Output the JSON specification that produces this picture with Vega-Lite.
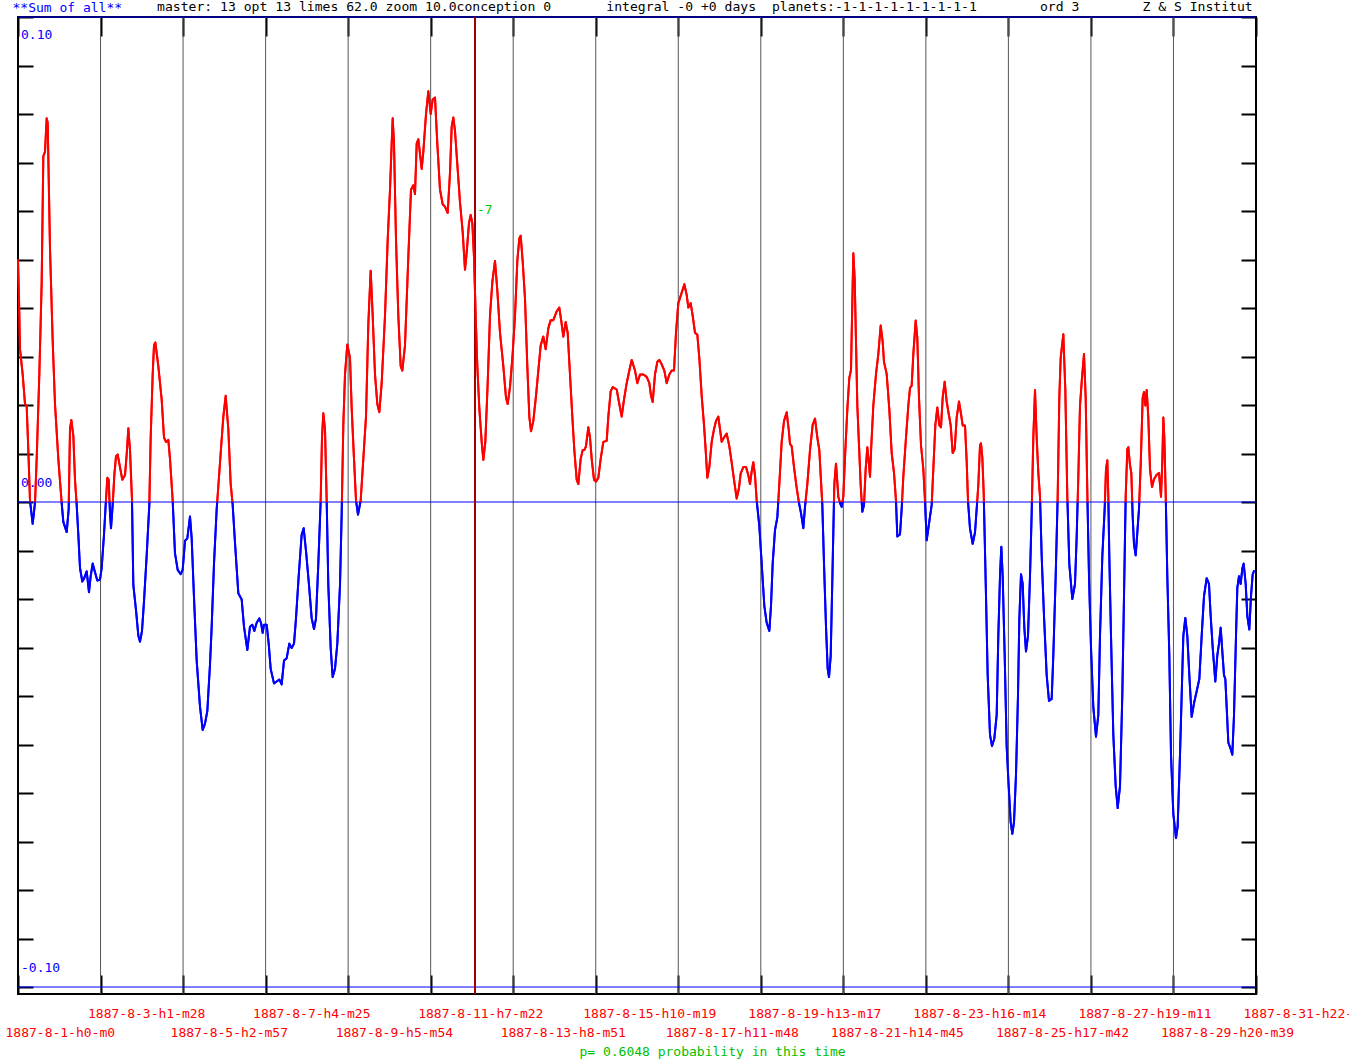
{
  "$schema": "https://vega.github.io/schema/vega-lite/v6.json",
  "width": 1238,
  "height": 977,
  "autosize": "none",
  "padding": {"left": 18, "top": 17, "right": 93, "bottom": 67},
  "background": "white",
  "config": {"font": "DejaVu Sans Mono", "view": {"stroke": "#000000", "strokeWidth": 2}},
  "title": {
    "text": "master: 13 opt 13 limes 62.0 zoom 10.0conception 0\u00a0\u00a0\u00a0\u00a0\u00a0\u00a0\u00a0integral -0 +0 days\u00a0\u00a0planets:-1-1-1-1-1-1-1-1-1\u00a0\u00a0\u00a0\u00a0\u00a0\u00a0\u00a0\u00a0ord 3\u00a0\u00a0\u00a0\u00a0\u00a0\u00a0\u00a0\u00a0Z & S Institut",
    "anchor": "start", "frame": "group", "dx": 139, "offset": -19, "baseline": "middle",
    "font": "DejaVu Sans Mono", "fontSize": 13.1, "fontWeight": "normal", "color": "#000000"
  },
  "datasets": {
    "curve": [
      {"d":0,"v":0.05},{"d":0.025,"v":0.0419},{"d":0.05,"v":0.0315},{"d":0.117,"v":0.0263},{"d":0.175,"v":0.0202},{"d":0.217,"v":0.0198},{"d":0.258,"v":0.0107},{"d":0.3,"v":0.0003},{"d":0.367,"v":-0.0045},{"d":0.425,"v":-0.0002},{"d":0.467,"v":0.0089},{"d":0.533,"v":0.0263},{"d":0.592,"v":0.0453},{"d":0.633,"v":0.0713},{"d":0.675,"v":0.0722},{"d":0.717,"v":0.0791},{"d":0.742,"v":0.0782},{"d":0.8,"v":0.0523},{"d":0.867,"v":0.0332},{"d":0.925,"v":0.0202},{"d":1.008,"v":0.0089},{"d":1.092,"v":-0.0002},{"d":1.133,"v":-0.0041},{"d":1.217,"v":-0.0062},{"d":1.267,"v":-0.0015},{"d":1.3,"v":0.015},{"d":1.333,"v":0.0169},{"d":1.383,"v":0.0137},{"d":1.425,"v":0.0046},{"d":1.467,"v":-0.0006},{"d":1.508,"v":-0.0067},{"d":1.55,"v":-0.0136},{"d":1.608,"v":-0.0164},{"d":1.65,"v":-0.0158},{"d":1.717,"v":-0.0143},{"d":1.775,"v":-0.0186},{"d":1.817,"v":-0.0153},{"d":1.867,"v":-0.0127},{"d":1.925,"v":-0.0145},{"d":1.983,"v":-0.0162},{"d":2.05,"v":-0.016},{"d":2.092,"v":-0.0136},{"d":2.15,"v":-0.0067},{"d":2.192,"v":-0.0006},{"d":2.233,"v":0.005},{"d":2.267,"v":0.0046},{"d":2.3,"v":-0.0023},{"d":2.325,"v":-0.0054},{"d":2.367,"v":-0.0006},{"d":2.408,"v":0.0055},{"d":2.45,"v":0.0094},{"d":2.492,"v":0.0098},{"d":2.55,"v":0.0072},{"d":2.608,"v":0.0046},{"d":2.675,"v":0.0055},{"d":2.717,"v":0.0098},{"d":2.758,"v":0.0152},{"d":2.8,"v":0.0107},{"d":2.85,"v":0.0003},{"d":2.883,"v":-0.0171},{"d":2.95,"v":-0.0223},{"d":3.008,"v":-0.0275},{"d":3.05,"v":-0.0288},{"d":3.1,"v":-0.0266},{"d":3.15,"v":-0.0205},{"d":3.217,"v":-0.011},{"d":3.283,"v":-0.0006},{"d":3.317,"v":0.0133},{"d":3.367,"v":0.0263},{"d":3.4,"v":0.0323},{"d":3.433,"v":0.0329},{"d":3.508,"v":0.028},{"d":3.592,"v":0.0211},{"d":3.65,"v":0.0133},{"d":3.7,"v":0.0124},{"d":3.758,"v":0.0128},{"d":3.8,"v":0.0089},{"d":3.867,"v":0.0003},{"d":3.925,"v":-0.0106},{"d":3.992,"v":-0.014},{"d":4.067,"v":-0.0149},{"d":4.117,"v":-0.014},{"d":4.175,"v":-0.008},{"d":4.233,"v":-0.0075},{"d":4.3,"v":-0.003},{"d":4.342,"v":-0.0075},{"d":4.4,"v":-0.0197},{"d":4.467,"v":-0.0327},{"d":4.55,"v":-0.0422},{"d":4.617,"v":-0.047},{"d":4.675,"v":-0.0457},{"d":4.733,"v":-0.0431},{"d":4.8,"v":-0.0335},{"d":4.842,"v":-0.0257},{"d":4.9,"v":-0.0127},{"d":4.967,"v":-0.0015},{"d":5.05,"v":0.0081},{"d":5.133,"v":0.0176},{"d":5.192,"v":0.0219},{"d":5.258,"v":0.015},{"d":5.317,"v":0.0037},{"d":5.367,"v":-0.0006},{"d":5.425,"v":-0.0084},{"d":5.508,"v":-0.0188},{"d":5.592,"v":-0.0201},{"d":5.65,"v":-0.0257},{"d":5.733,"v":-0.0305},{"d":5.8,"v":-0.0257},{"d":5.858,"v":-0.0253},{"d":5.908,"v":-0.0266},{"d":5.967,"v":-0.0249},{"d":6.033,"v":-0.024},{"d":6.075,"v":-0.0249},{"d":6.117,"v":-0.027},{"d":6.15,"v":-0.0253},{"d":6.217,"v":-0.0253},{"d":6.267,"v":-0.0292},{"d":6.317,"v":-0.0344},{"d":6.4,"v":-0.0374},{"d":6.467,"v":-0.037},{"d":6.533,"v":-0.0366},{"d":6.592,"v":-0.0376},{"d":6.65,"v":-0.0327},{"d":6.717,"v":-0.0322},{"d":6.783,"v":-0.0292},{"d":6.842,"v":-0.0301},{"d":6.9,"v":-0.0292},{"d":6.95,"v":-0.024},{"d":7.017,"v":-0.0153},{"d":7.092,"v":-0.0067},{"d":7.142,"v":-0.0054},{"d":7.2,"v":-0.0101},{"d":7.275,"v":-0.0171},{"d":7.342,"v":-0.024},{"d":7.4,"v":-0.0262},{"d":7.45,"v":-0.024},{"d":7.508,"v":-0.0127},{"d":7.567,"v":0.0003},{"d":7.6,"v":0.0133},{"d":7.633,"v":0.0183},{"d":7.675,"v":0.015},{"d":7.717,"v":0.0003},{"d":7.758,"v":-0.0171},{"d":7.817,"v":-0.0301},{"d":7.867,"v":-0.0361},{"d":7.925,"v":-0.0344},{"d":7.983,"v":-0.0292},{"d":8.05,"v":-0.0171},{"d":8.092,"v":-0.0023},{"d":8.133,"v":0.0159},{"d":8.175,"v":0.0263},{"d":8.233,"v":0.0325},{"d":8.3,"v":0.0297},{"d":8.342,"v":0.0193},{"d":8.4,"v":0.0089},{"d":8.45,"v":0.0003},{"d":8.5,"v":-0.0026},{"d":8.567,"v":0.0003},{"d":8.633,"v":0.0089},{"d":8.7,"v":0.0176},{"d":8.758,"v":0.0367},{"d":8.817,"v":0.0477},{"d":8.867,"v":0.0384},{"d":8.925,"v":0.0263},{"d":8.983,"v":0.0202},{"d":9.033,"v":0.0185},{"d":9.092,"v":0.0245},{"d":9.175,"v":0.0384},{"d":9.242,"v":0.054},{"d":9.3,"v":0.0644},{"d":9.342,"v":0.0739},{"d":9.367,"v":0.0791},{"d":9.4,"v":0.0739},{"d":9.45,"v":0.054},{"d":9.508,"v":0.0384},{"d":9.567,"v":0.028},{"d":9.608,"v":0.0271},{"d":9.675,"v":0.0323},{"d":9.758,"v":0.0505},{"d":9.825,"v":0.0644},{"d":9.883,"v":0.0653},{"d":9.925,"v":0.0635},{"d":9.967,"v":0.0739},{"d":10.008,"v":0.0748},
      {"d":10.092,"v":0.0687},{"d":10.133,"v":0.0722},{"d":10.2,"v":0.08},{"d":10.258,"v":0.0847},{"d":10.317,"v":0.08},{"d":10.367,"v":0.083},{"d":10.425,"v":0.0834},{"d":10.483,"v":0.0739},{"d":10.55,"v":0.0644},{"d":10.617,"v":0.0614},{"d":10.675,"v":0.0609},{"d":10.742,"v":0.0596},{"d":10.8,"v":0.0679},{"d":10.842,"v":0.0774},{"d":10.883,"v":0.0793},{"d":10.925,"v":0.0765},{"d":10.983,"v":0.0696},{"d":11.05,"v":0.0618},{"d":11.117,"v":0.0557},{"d":11.175,"v":0.0479},{"d":11.217,"v":0.0514},{"d":11.275,"v":0.0575},{"d":11.317,"v":0.0592},{"d":11.358,"v":0.0575},{"d":11.4,"v":0.0505},{"d":11.442,"v":0.0384},{"d":11.483,"v":0.028},{"d":11.533,"v":0.0193},{"d":11.592,"v":0.0124},{"d":11.633,"v":0.0087},{"d":11.683,"v":0.0124},{"d":11.742,"v":0.0245},{"d":11.8,"v":0.0384},{"d":11.858,"v":0.0453},{"d":11.925,"v":0.0497},{"d":11.983,"v":0.0436},{"d":12.05,"v":0.0349},{"d":12.133,"v":0.028},{"d":12.2,"v":0.0215},{"d":12.242,"v":0.0202},{"d":12.3,"v":0.0237},{"d":12.367,"v":0.0306},{"d":12.425,"v":0.0384},{"d":12.483,"v":0.0497},{"d":12.533,"v":0.0544},{"d":12.567,"v":0.0549},{"d":12.617,"v":0.0497},{"d":12.675,"v":0.0419},{"d":12.733,"v":0.028},{"d":12.783,"v":0.0176},{"d":12.825,"v":0.0146},{"d":12.883,"v":0.0167},{"d":12.95,"v":0.0219},{"d":13.008,"v":0.0271},{"d":13.067,"v":0.0323},{"d":13.133,"v":0.0341},{"d":13.192,"v":0.0315},{"d":13.258,"v":0.0358},{"d":13.317,"v":0.0375},{"d":13.383,"v":0.0375},{"d":13.467,"v":0.0393},{"d":13.533,"v":0.0401},{"d":13.592,"v":0.0367},{"d":13.633,"v":0.0341},{"d":13.692,"v":0.0371},{"d":13.742,"v":0.0349},{"d":13.8,"v":0.0263},{"d":13.858,"v":0.0176},{"d":13.908,"v":0.0107},{"d":13.967,"v":0.0046},{"d":14.008,"v":0.0037},{"d":14.067,"v":0.0089},{"d":14.117,"v":0.0107},{"d":14.158,"v":0.0107},{"d":14.2,"v":0.0115},{"d":14.258,"v":0.0154},{"d":14.3,"v":0.0133},{"d":14.342,"v":0.0089},{"d":14.4,"v":0.0046},{"d":14.45,"v":0.0042},{"d":14.508,"v":0.005},{"d":14.567,"v":0.0089},{"d":14.633,"v":0.0124},{"d":14.717,"v":0.0126},{"d":14.758,"v":0.0176},{"d":14.817,"v":0.0228},{"d":14.867,"v":0.0237},{"d":14.967,"v":0.0232},{"d":15.033,"v":0.0202},{"d":15.092,"v":0.0176},{"d":15.15,"v":0.0211},{"d":15.217,"v":0.0245},{"d":15.283,"v":0.0271},{"d":15.342,"v":0.0293},{"d":15.425,"v":0.0271},{"d":15.483,"v":0.0245},{"d":15.55,"v":0.0263},{"d":15.633,"v":0.0263},{"d":15.717,"v":0.0258},{"d":15.783,"v":0.0245},{"d":15.825,"v":0.0219},{"d":15.867,"v":0.0206},{"d":15.925,"v":0.0263},{"d":15.983,"v":0.0289},{"d":16.033,"v":0.0293},{"d":16.092,"v":0.0284},{"d":16.158,"v":0.0271},{"d":16.217,"v":0.0245},{"d":16.283,"v":0.0263},{"d":16.342,"v":0.0271},{"d":16.4,"v":0.0271},{"d":16.45,"v":0.0349},{"d":16.508,"v":0.041},{"d":16.575,"v":0.0427},{"d":16.658,"v":0.0449},{"d":16.717,"v":0.0427},{"d":16.758,"v":0.0401},{"d":16.817,"v":0.041},{"d":16.867,"v":0.0384},{"d":16.925,"v":0.0349},{"d":16.983,"v":0.0345},{"d":17.033,"v":0.0297},{"d":17.092,"v":0.0219},{"d":17.15,"v":0.0159},{"d":17.192,"v":0.0107},{"d":17.233,"v":0.005},{"d":17.283,"v":0.0072},{"d":17.342,"v":0.0124},{"d":17.4,"v":0.015},{"d":17.45,"v":0.0167},{"d":17.508,"v":0.0176},{"d":17.55,"v":0.015},{"d":17.592,"v":0.0124},{"d":17.65,"v":0.0133},{"d":17.717,"v":0.0141},{"d":17.783,"v":0.0115},{"d":17.842,"v":0.0081},{"d":17.9,"v":0.0046},{"d":17.967,"v":0.0007},{"d":18.025,"v":0.0029},{"d":18.067,"v":0.0059},{"d":18.133,"v":0.0072},{"d":18.2,"v":0.0072},{"d":18.258,"v":0.0055},{"d":18.3,"v":0.0037},{"d":18.342,"v":0.0063},{"d":18.383,"v":0.0082},{"d":18.425,"v":0.0055},{"d":18.467,"v":0.0003},{"d":18.533,"v":-0.0049},{"d":18.592,"v":-0.0127},{"d":18.658,"v":-0.0214},{"d":18.717,"v":-0.0249},{"d":18.783,"v":-0.0266},{"d":18.825,"v":-0.0214},{"d":18.867,"v":-0.0127},{"d":18.925,"v":-0.0058},{"d":18.983,"v":-0.0032},{"d":19.033,"v":0.0037},{"d":19.092,"v":0.0124},{"d":19.15,"v":0.0167},{"d":19.217,"v":0.0185},{"d":19.267,"v":0.015},{"d":19.3,"v":0.012},{"d":19.342,"v":0.0115},{"d":19.4,"v":0.0072},{"d":19.467,"v":0.0029},{"d":19.525,"v":-0.0002},{"d":19.575,"v":-0.0023},{"d":19.633,"v":-0.0054},{"d":19.675,"v":-0.001},{"d":19.733,"v":0.0037},{"d":19.8,"v":0.0107},{"d":19.867,"v":0.0159},{"d":19.925,"v":0.0172},{"d":19.983,"v":0.0133},{"d":20.033,"v":0.0107},{"d":20.067,"v":0.0055},{"d":20.108,"v":-0.0006},{"d":20.15,"v":-0.0127},{"d":20.2,"v":-0.0257},{"d":20.242,"v":-0.0344},{"d":20.275,"v":-0.0361},{"d":20.317,"v":-0.0318},{"d":20.367,"v":-0.0127},{"d":20.408,"v":0.0037},{"d":20.45,"v":0.0079},
      {"d":20.508,"v":0.0011},{"d":20.55,"v":-0.0002},{"d":20.592,"v":-0.001},{"d":20.633,"v":0.0011},{"d":20.675,"v":0.0092},{"d":20.733,"v":0.0191},{"d":20.783,"v":0.0256},{"d":20.825,"v":0.0272},{"d":20.85,"v":0.0379},{"d":20.883,"v":0.0513},{"d":20.917,"v":0.046},{"d":20.95,"v":0.033},{"d":20.983,"v":0.0199},{"d":21.025,"v":0.0117},{"d":21.067,"v":0.0035},{"d":21.108,"v":-0.002},{"d":21.15,"v":-0.0006},{"d":21.192,"v":0.0068},{"d":21.233,"v":0.0113},{"d":21.267,"v":0.0084},{"d":21.3,"v":0.0052},{"d":21.333,"v":0.0117},{"d":21.383,"v":0.0199},{"d":21.45,"v":0.0264},{"d":21.508,"v":0.0305},{"d":21.567,"v":0.0364},{"d":21.617,"v":0.033},{"d":21.65,"v":0.0289},{"d":21.717,"v":0.0264},{"d":21.783,"v":0.0191},{"d":21.842,"v":0.0101},{"d":21.9,"v":0.006},{"d":21.95,"v":0.0002},{"d":21.983,"v":-0.0071},{"d":22.05,"v":-0.0067},{"d":22.092,"v":-0.0014},{"d":22.133,"v":0.0052},{"d":22.2,"v":0.0133},{"d":22.258,"v":0.0199},{"d":22.3,"v":0.0235},{"d":22.342,"v":0.024},{"d":22.383,"v":0.0305},{"d":22.442,"v":0.0374},{"d":22.483,"v":0.0338},{"d":22.525,"v":0.0215},{"d":22.575,"v":0.0117},{"d":22.633,"v":0.0068},{"d":22.675,"v":0.0002},{"d":22.717,"v":-0.0079},{"d":22.758,"v":-0.0055},{"d":22.8,"v":-0.003},{"d":22.842,"v":-0.0006},{"d":22.883,"v":0.0068},{"d":22.933,"v":0.0158},{"d":22.983,"v":0.0195},{"d":23.033,"v":0.0158},{"d":23.075,"v":0.0154},{"d":23.117,"v":0.0215},{"d":23.167,"v":0.0248},{"d":23.217,"v":0.0207},{"d":23.267,"v":0.0182},{"d":23.317,"v":0.0158},{"d":23.367,"v":0.0101},{"d":23.417,"v":0.0109},{"d":23.467,"v":0.0174},{"d":23.525,"v":0.0207},{"d":23.575,"v":0.0182},{"d":23.617,"v":0.0158},{"d":23.675,"v":0.0158},{"d":23.717,"v":0.0084},{"d":23.75,"v":0.0002},{"d":23.8,"v":-0.0055},{"d":23.867,"v":-0.0086},{"d":23.925,"v":-0.0063},{"d":23.967,"v":-0.0014},{"d":24.008,"v":0.0035},{"d":24.05,"v":0.0117},{"d":24.075,"v":0.0121},{"d":24.108,"v":0.0092},{"d":24.142,"v":0.0019},{"d":24.167,"v":-0.0071},{"d":24.2,"v":-0.0194},{"d":24.242,"v":-0.0357},{"d":24.3,"v":-0.048},{"d":24.35,"v":-0.0503},{"d":24.408,"v":-0.0488},{"d":24.467,"v":-0.0439},{"d":24.508,"v":-0.0276},{"d":24.55,"v":-0.0153},{"d":24.583,"v":-0.0092},{"d":24.617,"v":-0.0153},{"d":24.667,"v":-0.0316},{"d":24.717,"v":-0.0504},{"d":24.767,"v":-0.0586},{"d":24.817,"v":-0.066},{"d":24.858,"v":-0.0684},{"d":24.9,"v":-0.066},{"d":24.95,"v":-0.0562},{"d":25.0,"v":-0.0398},{"d":25.033,"v":-0.0243},{"d":25.075,"v":-0.0149},{"d":25.117,"v":-0.0169},{"d":25.158,"v":-0.0259},{"d":25.2,"v":-0.0308},{"d":25.25,"v":-0.0276},{"d":25.3,"v":-0.0153},{"d":25.342,"v":-0.0022},{"d":25.383,"v":0.0133},{"d":25.425,"v":0.0231},{"d":25.467,"v":0.0133},{"d":25.508,"v":0.006},{"d":25.55,"v":0.0011},{"d":25.592,"v":-0.0112},{"d":25.65,"v":-0.0235},{"d":25.717,"v":-0.0357},{"d":25.775,"v":-0.041},{"d":25.842,"v":-0.0406},{"d":25.883,"v":-0.0316},{"d":25.942,"v":-0.0153},{"d":25.992,"v":0.0011},{"d":26.033,"v":0.0215},{"d":26.067,"v":0.0297},{"d":26.133,"v":0.0346},{"d":26.183,"v":0.0231},{"d":26.233,"v":0.0011},{"d":26.283,"v":-0.0128},{"d":26.358,"v":-0.02},{"d":26.425,"v":-0.0169},{"d":26.467,"v":-0.0071},{"d":26.508,"v":0.0052},{"d":26.55,"v":0.0199},{"d":26.6,"v":0.0256},{"d":26.65,"v":0.0305},{"d":26.692,"v":0.0215},{"d":26.733,"v":0.0019},{"d":26.775,"v":-0.0153},{"d":26.825,"v":-0.03},{"d":26.883,"v":-0.0423},{"d":26.95,"v":-0.0484},{"d":27.008,"v":-0.0439},{"d":27.05,"v":-0.0276},{"d":27.108,"v":-0.0112},{"d":27.167,"v":-0.0014},{"d":27.2,"v":0.0068},{"d":27.233,"v":0.0086},{"d":27.258,"v":0.0011},{"d":27.283,"v":-0.0112},{"d":27.325,"v":-0.0276},{"d":27.383,"v":-0.048},{"d":27.442,"v":-0.0586},{"d":27.492,"v":-0.0631},{"d":27.55,"v":-0.0586},{"d":27.608,"v":-0.0398},{"d":27.65,"v":-0.0194},{"d":27.692,"v":0.0011},{"d":27.733,"v":0.0109},{"d":27.758,"v":0.0113},{"d":27.8,"v":0.0076},{"d":27.833,"v":0.006},{"d":27.867,"v":-0.003},{"d":27.9,"v":-0.0087},{"d":27.942,"v":-0.011},{"d":27.983,"v":-0.0063},{"d":28.025,"v":-0.0014},{"d":28.067,"v":0.0076},{"d":28.117,"v":0.0215},{"d":28.15,"v":0.0227},{"d":28.183,"v":0.0199},{"d":28.217,"v":0.0231},{"d":28.258,"v":0.0174},{"d":28.3,"v":0.0068},{"d":28.35,"v":0.0031},{"d":28.4,"v":0.0047},{"d":28.467,"v":0.0056},{"d":28.525,"v":0.006},{"d":28.575,"v":0.0011},{"d":28.608,"v":0.0084},{"d":28.633,"v":0.0174},{"d":28.658,"v":0.0133},{"d":28.692,"v":0.0019},{"d":28.733,"v":-0.0153},{"d":28.783,"v":-0.0316},{"d":28.825,"v":-0.0521},{"d":28.883,"v":-0.0643},{"d":28.95,"v":-0.0693},{"d":28.992,"v":-0.0668},{"d":29.05,"v":-0.0521},{"d":29.092,"v":-0.0398},{"d":29.133,"v":-0.0276},{"d":29.183,"v":-0.0239},{"d":29.233,"v":-0.0276},{"d":29.283,"v":-0.0357},{"d":29.342,"v":-0.0443},{"d":29.4,"v":-0.0415},{"d":29.467,"v":-0.039},{"d":29.533,"v":-0.0365},{"d":29.592,"v":-0.0276},{"d":29.65,"v":-0.0194},{"d":29.717,"v":-0.0157},{"d":29.775,"v":-0.0169},{"d":29.817,"v":-0.0235},{"d":29.867,"v":-0.03},{"d":29.933,"v":-0.037},{"d":29.983,"v":-0.0316},{"d":30.025,"v":-0.0292},{"d":30.067,"v":-0.0259},{"d":30.108,"v":-0.0308},{"d":30.15,"v":-0.0357},{"d":30.183,"v":-0.0365},{"d":30.217,"v":-0.0423},{"d":30.258,"v":-0.0496},{"d":30.317,"v":-0.0509},{"d":30.358,"v":-0.0521},{"d":30.4,"v":-0.0439},{"d":30.45,"v":-0.0276},{"d":30.483,"v":-0.0177},{"d":30.525,"v":-0.0153},{"d":30.567,"v":-0.0169},{"d":30.608,"v":-0.0137},{"d":30.642,"v":-0.0127},{"d":30.692,"v":-0.0169},{"d":30.733,"v":-0.0235},{"d":30.783,"v":-0.0263},{"d":30.825,"v":-0.0194},{"d":30.867,"v":-0.0149},{"d":30.908,"v":-0.0141}
    ],
    "vgrid": [{"d":2.0633},{"d":4.1267},{"d":6.19},{"d":8.2533},{"d":10.3167},{"d":12.38},{"d":14.4433},{"d":16.5067},{"d":18.57},{"d":20.6333},{"d":22.6967},{"d":24.76},{"d":26.8233},{"d":28.8867}],
    "hlines": [{"v":0.1},{"v":0},{"v":-0.1}],
    "marker": [{"d":11.425,"v":0.0602,"label":"-7"}],
    "ylabTop": [{"d":0,"v":0.1,"label":"0.10"}],
    "ylabOther": [{"d":0,"v":0,"label":"0.00"},{"d":0,"v":-0.1,"label":"-0.10"}]
  },
  "layer": [
    {
      "data": {"name": "curve"},
      "mark": {"type": "line", "strokeWidth": 2, "strokeJoin": "round",
        "stroke": {"gradient": "linear", "x1": 0, "y1": 0, "x2": 0, "y2": 1,
          "stops": [{"offset": 0, "color": "#ff0000"}, {"offset": 0.55, "color": "#ff0000"}, {"offset": 0.55, "color": "#0000ff"}, {"offset": 1, "color": "#0000ff"}]}},
      "encoding": {
        "x": {"field": "d", "type": "quantitative", "scale": {"domain": [0, 30.95], "nice": false, "zero": false},
          "axis": {
            "values": [0,2.0633,4.1267,6.19,8.2533,10.3167,12.38,14.4433,16.5067,18.57,20.6333,22.6967,24.76,26.8233,28.8867,30.95],
            "labelExpr": "[['','1887-8-1-h0-m0'],'1887-8-3-h1-m28',['','1887-8-5-h2-m57'],'1887-8-7-h4-m25',['','1887-8-9-h5-m54'],'1887-8-11-h7-m22',['','1887-8-13-h8-m51'],'1887-8-15-h10-m19',['','1887-8-17-h11-m48'],'1887-8-19-h13-m17',['','1887-8-21-h14-m45'],'1887-8-23-h16-m14',['','1887-8-25-h17-m42'],'1887-8-27-h19-m11',['','1887-8-29-h20-m39'],'1887-8-31-h22-m8'][round(datum.value/2.0633)]",
            "labelAlign": "left", "labelBaseline": "top", "labelOffset": -13, "labelPadding": 13, "labelLineHeight": 19,
            "labelFont": "DejaVu Sans Mono", "labelFontSize": 13, "labelColor": "#ff0000",
            "labelOverlap": false, "labelBound": false, "labelFlush": false,
            "ticks": false, "tickSize": 0, "domain": false,
            "grid": true, "gridColor": "#000000", "gridWidth": 2, "gridOpacity": 1, "gridDash": [19, 939, 19, 100],
            "title": "p= 0.6048 probability in this time", "titleX": 694, "titleY": 57, "titleAlign": "center", "titleBaseline": "middle",
            "titleColor": "#00c000", "titleFont": "DejaVu Sans Mono", "titleFontSize": 13, "titleFontWeight": "normal"
          }
        },
        "y": {"field": "v", "type": "quantitative", "scale": {"domain": [-0.10144, 0.1], "nice": false, "zero": false},
          "axis": {
            "values": [-0.1,-0.09,-0.08,-0.07,-0.06,-0.05,-0.04,-0.03,-0.02,-0.01,0,0.01,0.02,0.03,0.04,0.05,0.06,0.07,0.08,0.09,0.1],
            "labels": false, "ticks": false, "tickSize": 0, "domain": false,
            "grid": true, "gridColor": "#000000", "gridWidth": 2, "gridOpacity": 1, "gridDash": [15, 1208, 15, 100],
            "title": "**Sum of all**", "titleAngle": 0, "titleX": -6, "titleY": -10, "titleAlign": "left", "titleBaseline": "middle",
            "titleColor": "#0000ff", "titleFont": "DejaVu Sans Mono", "titleFontSize": 13, "titleFontWeight": "normal"
          }
        }
      }
    },
    {
      "data": {"name": "vgrid"},
      "mark": {"type": "rule", "color": "#555555", "strokeWidth": 1},
      "encoding": {"x": {"field": "d", "type": "quantitative"}}
    },
    {
      "data": {"name": "hlines"},
      "mark": {"type": "rule", "color": "#0000ff", "strokeWidth": 1},
      "encoding": {"y": {"field": "v", "type": "quantitative"}}
    },
    {
      "data": {"name": "marker"},
      "mark": {"type": "rule", "color": "#a00000", "strokeWidth": 2},
      "encoding": {"x": {"field": "d", "type": "quantitative"}}
    },
    {
      "data": {"name": "curve"},
      "mark": {"type": "line", "strokeWidth": 2, "strokeJoin": "round",
        "stroke": {"gradient": "linear", "x1": 0, "y1": 0, "x2": 0, "y2": 1,
          "stops": [{"offset": 0, "color": "#ff0000"}, {"offset": 0.55, "color": "#ff0000"}, {"offset": 0.55, "color": "#0000ff"}, {"offset": 1, "color": "#0000ff"}]}},
      "encoding": {
        "x": {"field": "d", "type": "quantitative"},
        "y": {"field": "v", "type": "quantitative"}
      }
    },
    {
      "data": {"name": "ylabTop"},
      "mark": {"type": "text", "align": "left", "baseline": "middle", "dx": 3, "dy": 18, "fontSize": 13, "font": "DejaVu Sans Mono", "color": "#0000ff"},
      "encoding": {
        "x": {"field": "d", "type": "quantitative"},
        "y": {"field": "v", "type": "quantitative"},
        "text": {"field": "label"}
      }
    },
    {
      "data": {"name": "ylabOther"},
      "mark": {"type": "text", "align": "left", "baseline": "middle", "dx": 3, "dy": -19, "fontSize": 13, "font": "DejaVu Sans Mono", "color": "#0000ff"},
      "encoding": {
        "x": {"field": "d", "type": "quantitative"},
        "y": {"field": "v", "type": "quantitative"},
        "text": {"field": "label"}
      }
    },
    {
      "data": {"name": "marker"},
      "mark": {"type": "text", "align": "left", "baseline": "middle", "dx": 2, "fontSize": 13, "font": "DejaVu Sans Mono", "color": "#00c000"},
      "encoding": {
        "x": {"field": "d", "type": "quantitative"},
        "y": {"field": "v", "type": "quantitative"},
        "text": {"field": "label"}
      }
    }
  ]
}
